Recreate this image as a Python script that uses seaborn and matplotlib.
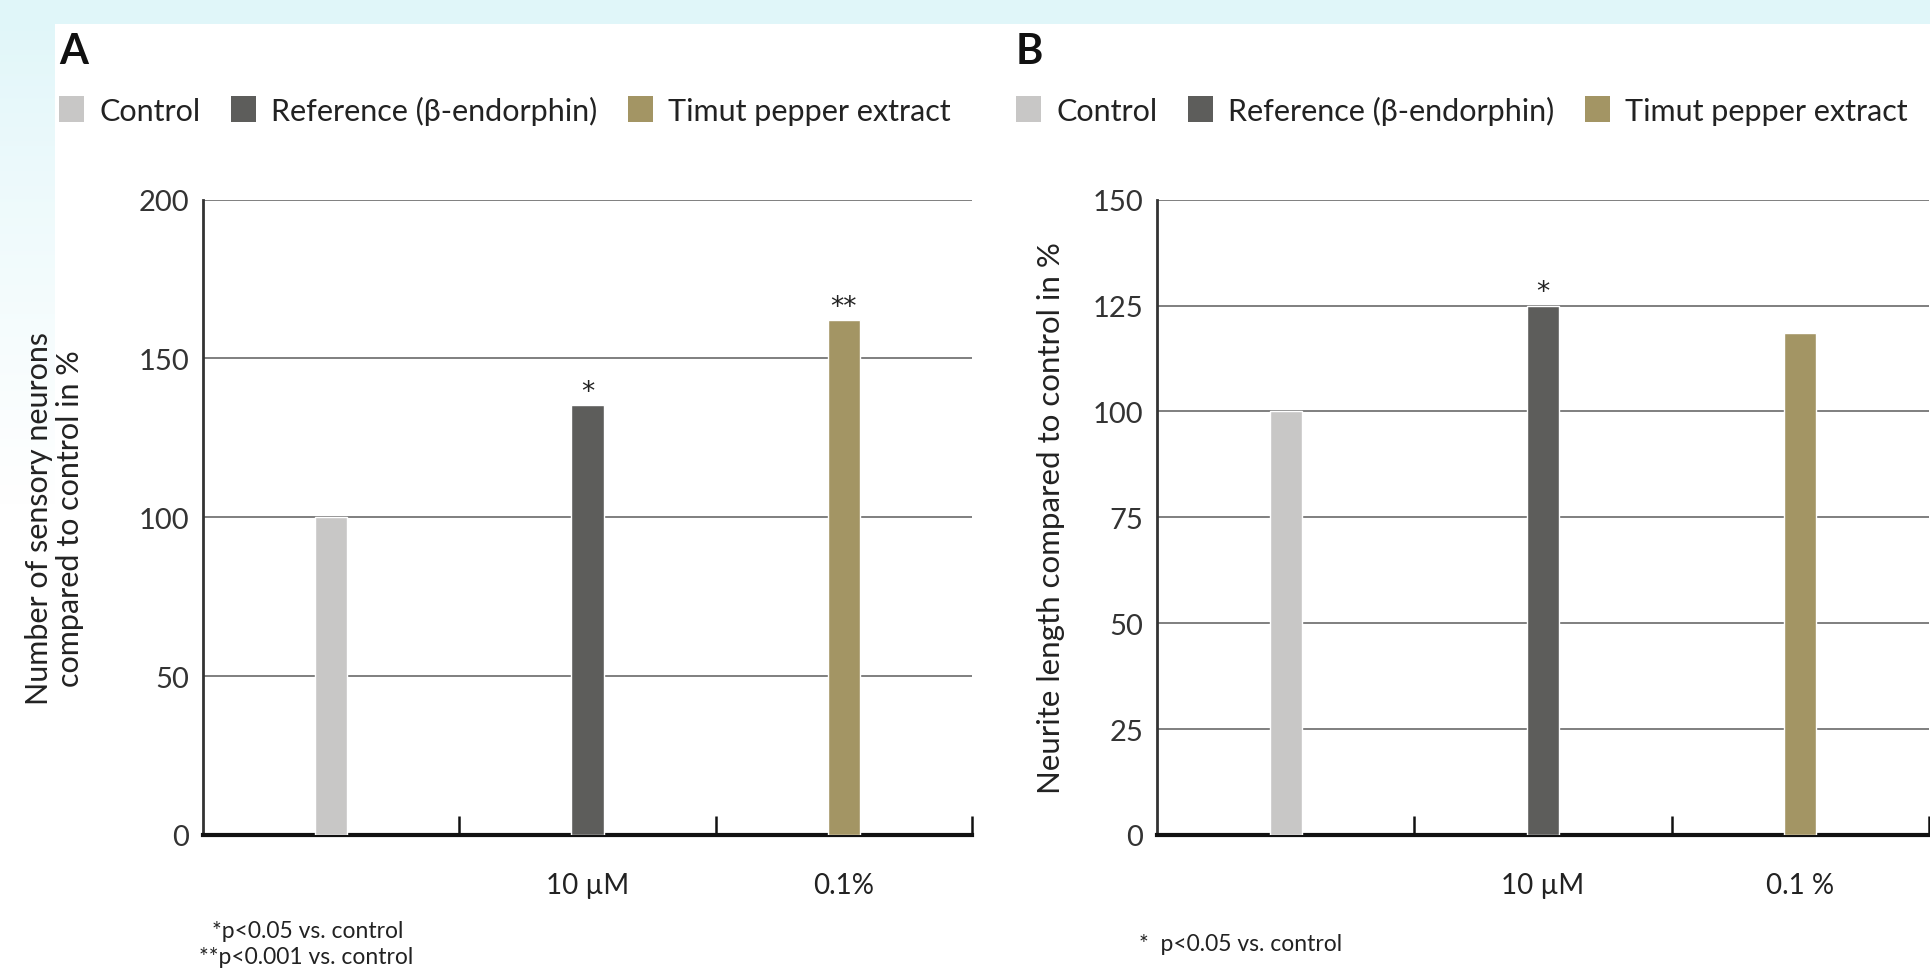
import numpy as np
import pandas as pd
import matplotlib.pyplot as plt
import seaborn as sns
from matplotlib.patches import Patch

# data
groups = ["Control", "Reference (β-endorphin)", "Timut pepper extract"]
colors = ["#c8c7c6", "#5d5d5b", "#a39564"]

doses_a = ["", "10 µM", "0.1%"]
neurons = [100, 135.5, 162]
stars_a = ["", "*", "**"]

doses_b = ["", "10 µM", "0.1 %"]
neurite = [100, 125, 118.5]
stars_b = ["", "*", ""]

W, H = 1930, 979

sns.set_theme(style="white")
plt.rcParams["font.family"] = ["Lato", "DejaVu Sans"]
plt.rcParams["text.color"] = "#222222"

fig = plt.figure(figsize=(W / 100, H / 100), dpi=100)

# light cyan frame: band on top, fading strip on the left
bg = np.ones((H, W, 3))
cyan = np.array([224, 246, 249]) / 255
bg[:25, :] = cyan
fade = np.clip((np.arange(H) - 25) / 480, 0, 1)[:, None, None] ** 0.8
bg[:, :55] = cyan * (1 - fade) + fade
ax_bg = fig.add_axes([0, 0, 1, 1], zorder=-10)
ax_bg.imshow(bg, aspect="auto")
ax_bg.axis("off")


def panel(left_px, right_px, values, doses, stars, ymax, step, ylabel, label_size, label_x, letter, letter_px):
    top_px, bot_px = 200.6, 836
    ax = fig.add_axes([left_px / W, 1 - bot_px / H, (right_px - left_px) / W, (bot_px - top_px) / H])
    df = pd.DataFrame({"group": groups, "value": values})
    sns.barplot(data=df, x="group", y="value", hue="group", palette=colors,
                width=0.125, saturation=1, legend=False, ax=ax, zorder=3)

    ax.set_xlim(-0.5, 2.5)
    ax.set_ylim(0, ymax)
    ax.set_yticks(np.arange(0, ymax + 1, step))
    ax.yaxis.grid(True, color="#6a6a6a", lw=1.2)
    ax.set_axisbelow(True)
    ax.tick_params(axis="y", length=0, pad=10, labelsize=21, labelcolor="#333333")

    ax.set_xticks(range(3))
    ax.set_xticklabels(doses)
    ax.set_xticks([0.5, 1.5, 2.5], minor=True)
    ax.tick_params(axis="x", which="major", length=0, pad=27, labelsize=20, labelcolor="#222222")
    ax.tick_params(axis="x", which="minor", bottom=True, direction="in", length=14, width=1.8, color="#111111")
    ax.set_xlabel("")

    for side in ["top", "right"]:
        ax.spines[side].set_visible(False)
    ax.spines["left"].set_color("#333333")
    ax.spines["left"].set_linewidth(2)
    ax.spines["bottom"].set_color("#111111")
    ax.spines["bottom"].set_linewidth(3)

    for i, s in enumerate(stars):
        if s:
            ax.annotate(s, (i, values[i]), xytext=(0, 0), textcoords="offset points",
                        ha="center", va="bottom", fontsize=19, family="DejaVu Sans")

    ax.set_ylabel(ylabel, fontsize=label_size, color="#222222", linespacing=1.12)
    ax.yaxis.set_label_coords(label_x, 0.5)

    fig.text(letter_px / W, 1 - 52 / H, letter, fontsize=30, fontweight="bold",
             va="center", ha="left", color="#111111")
    handles = [Patch(facecolor=c, edgecolor="none") for c in colors]
    fig.legend(handles, groups, loc="center left", bbox_to_anchor=(letter_px / W, 1 - 111 / H),
               ncol=3, frameon=False, fontsize=22, handlelength=0.82, handleheight=0.95,
               handletextpad=0.5, columnspacing=1.0, borderpad=0, borderaxespad=0)
    return ax


panel(203, 972, neurons, doses_a, stars_a, 200, 50,
      "Number of sensory neurons\ncompared to control in %", 22, -0.155, "A", 59)
panel(1157, 1929, neurite, doses_b, stars_b, 150, 25,
      "Neurite length compared to control in %", 22.5, -0.119, "B", 1016)

fig.text(212 / W, 1 - 932 / H, "*p<0.05 vs. control", fontsize=16.5, va="center")
fig.text(199 / W, 1 - 958 / H, "**p<0.001 vs. control", fontsize=16.5, va="center")
fig.text(1139 / W, 1 - 945 / H, "*  p<0.05 vs. control", fontsize=16.5, va="center")

fig.savefig("out.png", dpi=100)
